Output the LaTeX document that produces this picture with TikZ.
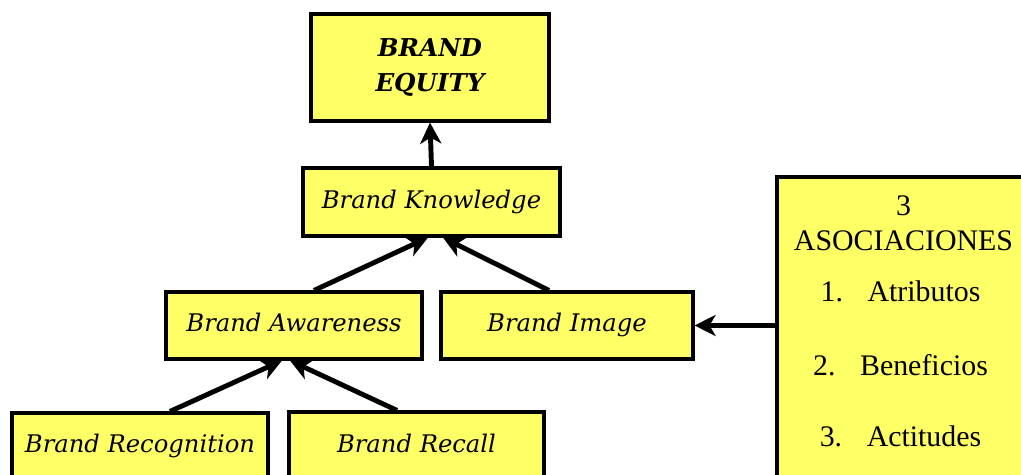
\documentclass[tikz,border=0pt]{standalone}
\usepackage{fontspec}
\setmainfont{Liberation Serif}
\newfontfamily\brandfont{DejaVu Serif}
\usetikzlibrary{arrows.meta}
\definecolor{amarillo}{RGB}{255,255,102}

\begin{document}
\begin{tikzpicture}[x=0.02cm, y=0.02cm,
  base/.style={draw, line width=1.8pt, fill=amarillo, inner sep=0pt},
  caja/.style={base, font=\brandfont\itshape\fontsize{13.8}{16}\selectfont, text height=10pt, text depth=3pt},
  titulo/.style={base, align=center, font=\brandfont\bfseries\itshape\fontsize{14}{20}\selectfont},
  lista/.style={font=\fontsize{17}{20}\selectfont},
  flecha/.style={line width=2.8pt, -{Stealth[length=12pt, width=12pt, inset=3.5pt]}}]

\useasboundingbox (0,0) rectangle (1021,474);
\clip (0,0) rectangle (1021,474);

% Nodos
\node[titulo, minimum width=4.76cm, minimum height=2.14cm] (equity) at (430,406.5) {BRAND\\EQUITY};
\node[caja, minimum width=5.14cm, minimum height=1.36cm] (know) at (431.5,272) {Brand Knowledge};
\node[caja, minimum width=5.12cm, minimum height=1.34cm] (aware) at (294,148.5) {Brand Awareness};
\node[caja, minimum width=5.04cm, minimum height=1.34cm] (image) at (567,148.5) {Brand Image};
\node[caja, minimum width=5.12cm, minimum height=1.34cm] (recog) at (140,27.5) {Brand Recognition};
\node[caja, minimum width=5.10cm, minimum height=1.36cm] (recall) at (416.5,28) {Brand Recall};
\node[base, minimum width=5.06cm, minimum height=6.26cm] (asoc) at (903.5,140.5) {};

% Texto de las asociaciones
\node[lista] (numero) at ([yshift=-0.6cm]asoc.north) {3};
\node[lista] (titasoc) at ([yshift=-1.3cm]asoc.north) {ASOCIACIONES};
\node[lista] (atrib) at ([xshift=-0.06cm, yshift=-2.32cm]asoc.north) {1.\hspace{14pt}Atributos};
\node[lista] (benef) at ([xshift=-0.06cm, yshift=-3.8cm]asoc.north) {2.\hspace{14pt}Beneficios};
\node[lista] (actit) at ([xshift=-0.06cm, yshift=-5.22cm]asoc.north) {3.\hspace{14pt}Actitudes};

% Flechas
\draw[flecha] (know.north) -- (equity.south);
\draw[flecha] ([xshift=0.4cm]aware.north) -- ([xshift=-0.07cm]know.south);
\draw[flecha] ([xshift=-0.36cm]image.north) -- ([xshift=0.23cm]know.south);
\draw[flecha] ([xshift=0.6cm]recog.north) -- ([xshift=-0.24cm]aware.south);
\draw[flecha] ([xshift=-0.39cm]recall.north) -- ([xshift=-0.08cm]aware.south);
\draw[flecha] (image.east -| asoc.west) -- (image.east);

\end{tikzpicture}
\end{document}
